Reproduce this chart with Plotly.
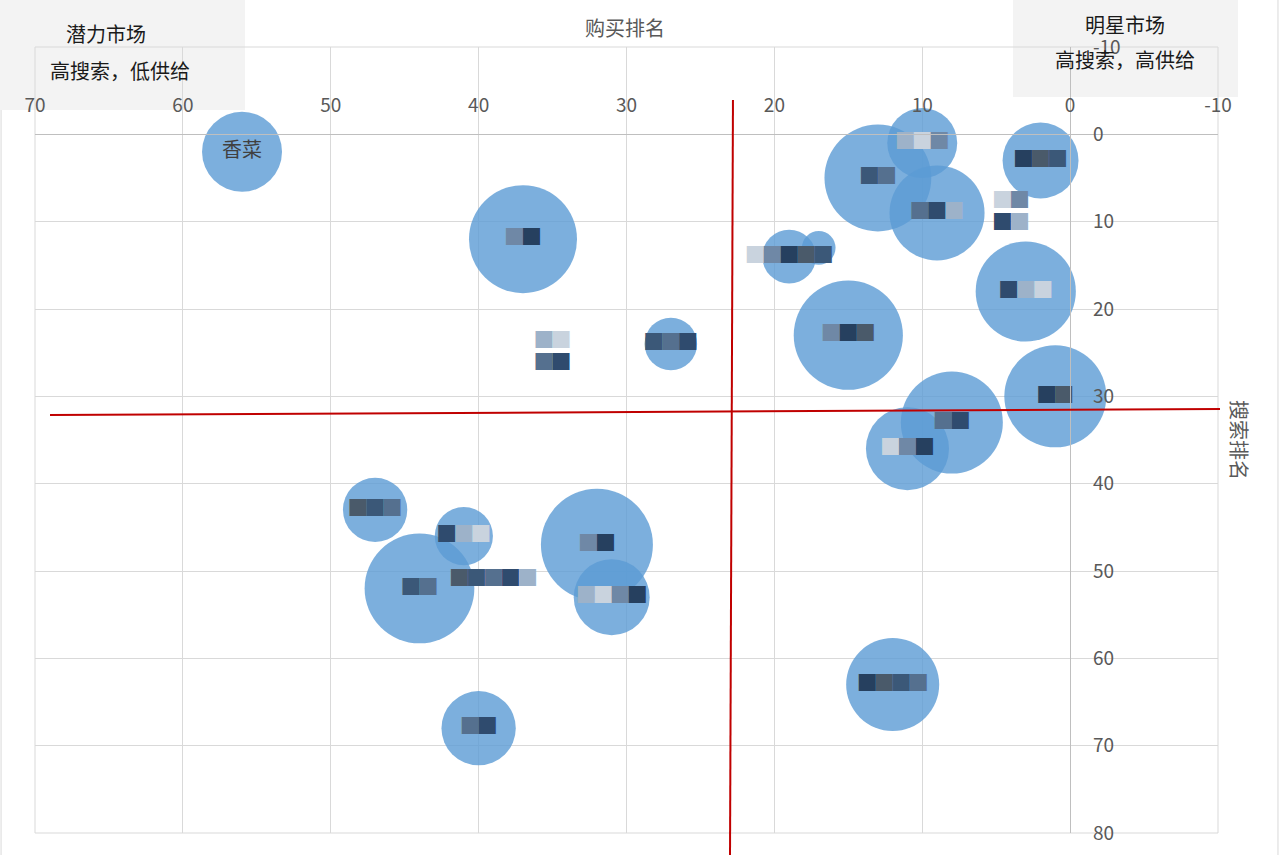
import plotly.graph_objects as go

# 购买排名 / 搜索排名 / 气泡大小
buy_rank = [56, 37, 13, 10, 2, 9, 19, 17, 3, 15, 27, 35, 1, 8, 11, 47, 41, 32, 44, 31, 12, 40, 4, 39]
search_rank = [2, 12, 5, 1, 3, 9, 14, 13, 18, 23, 24, 25, 30, 33, 36, 43, 46, 47, 52, 53, 63, 68, 9, 51]
volume = [51, 93, 91, 39, 46, 72, 23, 9, 80, 95, 22, 0, 83, 83, 55, 33, 27, 100, 96, 46, 69, 44, 0, 0]
# names are mosaicked in the source picture, only 香菜 is readable
names = ["香菜", "▇▇", "▇▇", "▇▇▇", "▇▇▇", "▇▇▇", "▇▇▇▇▇", "", "▇▇▇", "▇▇▇", "▇▇▇", "▇▇<br>▇▇",
         "▇▇", "▇▇", "▇▇▇", "▇▇▇", "▇▇▇", "▇▇", "▇▇", "▇▇▇▇", "▇▇▇▇", "▇▇", "▇▇<br>▇▇", "▇▇▇▇▇"]

x_ticks = [70, 60, 50, 40, 30, 20, 10, 0, -10]
x_labels = ["70", "60", "50", "40", "30", "20", "10", "0", "-10"]
y_ticks = [-10, 0, 10, 20, 30, 40, 50, 60, 70, 80]
y_labels = ["-10", "0", "10", "20", "30", "40", "50", "60", "70", "80"]

mosaic = ["#2f4b6e", "#6f88a6", "#3b5878", "#9db2c9", "#26405f", "#55708f", "#c9d3de", "#4a5a6a"]

def blur(s, k):
    if "▇" not in s:
        return s
    out = []
    j = k
    for ch in s:
        out.append('<span style="color:%s">█</span>' % mosaic[j % len(mosaic)])
        j += 3
    return "".join(out)

texts = []
for i, n in enumerate(names):
    parts = [blur(p, i + 2 * r) for r, p in enumerate(n.split("<br>"))]
    texts.append("<br>".join(parts))
text_sizes = [17 if "▇" in n else 20 for n in names]

fig = go.Figure()
fig.add_trace(go.Scatter(
    x=buy_rank, y=search_rank, mode="markers+text",
    text=texts, textposition="middle center",
    textfont=dict(family="Noto Sans CJK SC", size=text_sizes, color="#404040"),
    marker=dict(size=volume, sizemode="area", sizeref=2 * 100 / 112 ** 2, sizemin=0,
                color="#5B9BD5", opacity=0.8, line=dict(width=0)),
    cliponaxis=False, showlegend=False, hoverinfo="x+y",
))

grid = "#d9d9d9"
tick_font = dict(family="Noto Sans CJK SC", size=19, color="#595959")
fig.update_xaxes(range=[70, -10], tickvals=x_ticks, ticktext=x_labels, side="top",
                 anchor="free", position=80 / 90,
                 showgrid=True, gridcolor=grid, gridwidth=1, zeroline=False,
                 showline=True, linecolor="#bfbfbf", linewidth=1, ticks="",
                 ticklabelstandoff=15, tickfont=tick_font)
fig.update_yaxes(range=[80, -10], tickvals=y_ticks, ticktext=y_labels, side="right",
                 anchor="free", position=70 / 80,
                 showgrid=True, gridcolor=grid, gridwidth=1, zeroline=False,
                 showline=True, linecolor="#bfbfbf", linewidth=1, ticks="",
                 ticklabelstandoff=18, tickfont=tick_font)

shapes = [
    # chart frame
    dict(type="rect", xref="paper", yref="paper", x0=-0.0287, x1=1.0507, y0=-0.2, y1=1.2,
         line=dict(color="#d9d9d9", width=1), fillcolor="rgba(0,0,0,0)", layer="below"),
    # quadrant boxes
    dict(type="rect", xref="paper", yref="paper", x0=-0.0296, x1=0.1775, y0=0.9198, y1=1.0598,
         line=dict(width=0), fillcolor="#f3f3f3", layer="below"),
    dict(type="rect", xref="paper", yref="paper", x0=0.8267, x1=1.0169, y0=0.9364, y1=1.0598,
         line=dict(width=0), fillcolor="#f3f3f3", layer="below"),
    # plot area border
    dict(type="rect", xref="paper", yref="paper", x0=0, x1=1, y0=0, y1=1,
         line=dict(color=grid, width=1), fillcolor="rgba(0,0,0,0)", layer="below"),
    # red dividers
    dict(type="line", xref="paper", yref="paper", x0=0.5900, y0=0.9326, x1=0.5875, y1=-0.0280,
         line=dict(color="#c00000", width=2), layer="above"),
    dict(type="line", xref="paper", yref="paper", x0=0.0127, y0=0.5318, x1=1.0017, y1=0.5394,
         line=dict(color="#c00000", width=2), layer="above"),
]

ann_font = dict(family="Noto Sans CJK SC", size=20, color="#1a1a1a")
gray_font = dict(family="Noto Sans CJK SC", size=20, color="#595959")
annotations = [
    dict(text="潜力市场", x=0.0600, y=1.0171, font=ann_font),
    dict(text="高搜索，低供给", x=0.0719, y=0.9707, font=ann_font),
    dict(text="明星市场", x=0.9214, y=1.0280, font=ann_font),
    dict(text="高搜索，高供给", x=0.9214, y=0.9835, font=ann_font),
    dict(text="购买排名", x=0.4987, y=1.0242, font=gray_font),
    dict(text="搜索排名", x=1.0186, y=0.5, textangle=90, font=gray_font),
]
for a in annotations:
    a.update(xref="paper", yref="paper", showarrow=False, xanchor="center", yanchor="middle")

fig.update_layout(
    width=1280, height=855,
    margin=dict(l=35, r=62, t=47, b=22, autoexpand=False),
    paper_bgcolor="white", plot_bgcolor="rgba(0,0,0,0)",
    shapes=shapes, annotations=annotations,
)

fig.write_html("out.html", config={"displayModeBar": False},
               post_script="document.body.style.margin='0';")
